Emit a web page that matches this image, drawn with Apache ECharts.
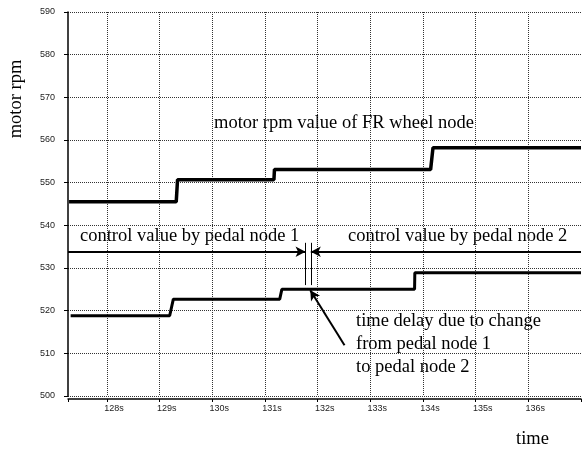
<!DOCTYPE html>
<html>
<head>
<meta charset="utf-8">
<script src="https://cdn.jsdelivr.net/npm/echarts@6/dist/echarts.min.js"></script>
<style>
  html, body { margin: 0; padding: 0; background: #fff; }
  #main { width: 584px; height: 450px; }
</style>
</head>
<body>
<div id="main"></div>
<script>
// motor rpm of FR wheel node (time in s, rpm)
var wheelTime = [127.28, 129.315, 129.34, 131.17, 131.18, 134.145, 134.19, 137];
var wheelRpm  = [545.5, 545.5, 550.7, 550.7, 553.1, 553.1, 558.2, 558.2];
// control value by pedal node
var pedalTime = [127.31, 129.19, 129.26, 131.28, 131.32, 133.84, 133.845, 137];
var pedalRpm  = [518.8, 518.8, 522.7, 522.7, 525.0, 525.0, 528.9, 528.9];
// annotation: control span, node switch and delay
var spanLevel = 533.8;
var switchTimes = [131.77, 131.87];
var switchRange = [526.0, 535.9];
var pointerFrom = [132.51, 511.9];
var pointerTo = [131.86, 524.8];

var xMin = 127.26, xMax = 137;

function pairs(t, v) {
  var out = [];
  for (var i = 0; i < t.length; i++) out.push([t[i], v[i]]);
  return out;
}

var chart = echarts.init(document.getElementById('main'));
var font = '18.5px "Liberation Serif"';
var grid = 'dotted';

chart.setOption({
  animation: false,
  backgroundColor: '#fff',
  grid: { left: 68, right: 1, top: 12, bottom: 54 },
  xAxis: {
    type: 'value',
    min: xMin,
    max: xMax,
    minInterval: 1,
    maxInterval: 1,
    offset: 3,
    axisLine: { show: true, lineStyle: { color: '#000', width: 1.5 } },
    axisTick: { show: true, length: 3, lineStyle: { color: '#000' } },
    axisLabel: {
      fontFamily: 'Liberation Sans', fontSize: 9, color: '#222', margin: 5,
      padding: [0, 0, 0, 14],
      formatter: function (v) {
        return (Math.abs(v - Math.round(v)) < 1e-6 && v < xMax - 0.01) ? Math.round(v) + 's' : '';
      }
    },
    splitLine: { show: true, showMinLine: false, showMaxLine: false, lineStyle: { color: '#333', type: grid, width: 1 } }
  },
  yAxis: {
    type: 'value',
    min: 500,
    max: 590,
    interval: 10,
    axisLine: { show: true, lineStyle: { color: '#000', width: 1.5 } },
    axisTick: { show: true, length: 4, lineStyle: { color: '#000' } },
    axisLabel: { fontFamily: 'Liberation Sans', fontSize: 9, color: '#222', margin: 13 },
    splitLine: { show: true, lineStyle: { color: '#333', type: grid, width: 1 } }
  },
  series: [
    {
      name: 'motor rpm value of FR wheel node',
      type: 'line',
      data: pairs(wheelTime, wheelRpm),
      showSymbol: false,
      lineStyle: { color: '#000', width: 3.5 }
    },
    {
      name: 'control value by pedal node',
      type: 'line',
      data: pairs(pedalTime, pedalRpm),
      showSymbol: false,
      lineStyle: { color: '#000', width: 3 },
      markLine: {
        silent: true,
        label: { show: false },
        symbolSize: [8, 10],
        data: [
          [
            { coord: [xMin, spanLevel], symbol: 'none', lineStyle: { color: '#000', width: 2, type: 'solid' } },
            { coord: [switchTimes[0], spanLevel], symbol: 'arrow' }
          ],
          [
            { coord: [switchTimes[1], spanLevel], symbol: 'arrow', lineStyle: { color: '#000', width: 2, type: 'solid' } },
            { coord: [xMax, spanLevel], symbol: 'none' }
          ],
          [
            { coord: [switchTimes[0], switchRange[0]], symbol: 'none', lineStyle: { color: '#000', width: 1, type: 'solid' } },
            { coord: [switchTimes[0], switchRange[1]], symbol: 'none' }
          ],
          [
            { coord: [switchTimes[1], switchRange[0]], symbol: 'none', lineStyle: { color: '#000', width: 1, type: 'solid' } },
            { coord: [switchTimes[1], switchRange[1]], symbol: 'none' }
          ],
          [
            { coord: pointerFrom, symbol: 'none', lineStyle: { color: '#000', width: 2, type: 'solid' } },
            { coord: pointerTo, symbol: 'arrow' }
          ]
        ]
      }
    }
  ],
  graphic: [
    { type: 'text', x: 16, y: 99, rotation: Math.PI / 2,
      style: { text: 'motor rpm', font: font, fill: '#000', textAlign: 'center', textVerticalAlign: 'middle' } },
    { type: 'text', x: 214, y: 123, style: { text: 'motor rpm value of FR wheel node', font: font, fill: '#000', textVerticalAlign: 'middle' } },
    { type: 'text', x: 80, y: 236, style: { text: 'control value by pedal node 1', font: font, fill: '#000', textVerticalAlign: 'middle' } },
    { type: 'text', x: 348, y: 236, style: { text: 'control value by pedal node 2', font: font, fill: '#000', textVerticalAlign: 'middle' } },
    { type: 'text', x: 356, y: 321, style: { text: 'time delay due to change', font: font, fill: '#000', textVerticalAlign: 'middle' } },
    { type: 'text', x: 356, y: 344, style: { text: 'from pedal node 1', font: font, fill: '#000', textVerticalAlign: 'middle' } },
    { type: 'text', x: 356, y: 367, style: { text: 'to pedal node 2', font: font, fill: '#000', textVerticalAlign: 'middle' } },
    { type: 'text', x: 516, y: 439, style: { text: 'time', font: font, fill: '#000', textVerticalAlign: 'middle' } }
  ]
});
</script>
</body>
</html>
